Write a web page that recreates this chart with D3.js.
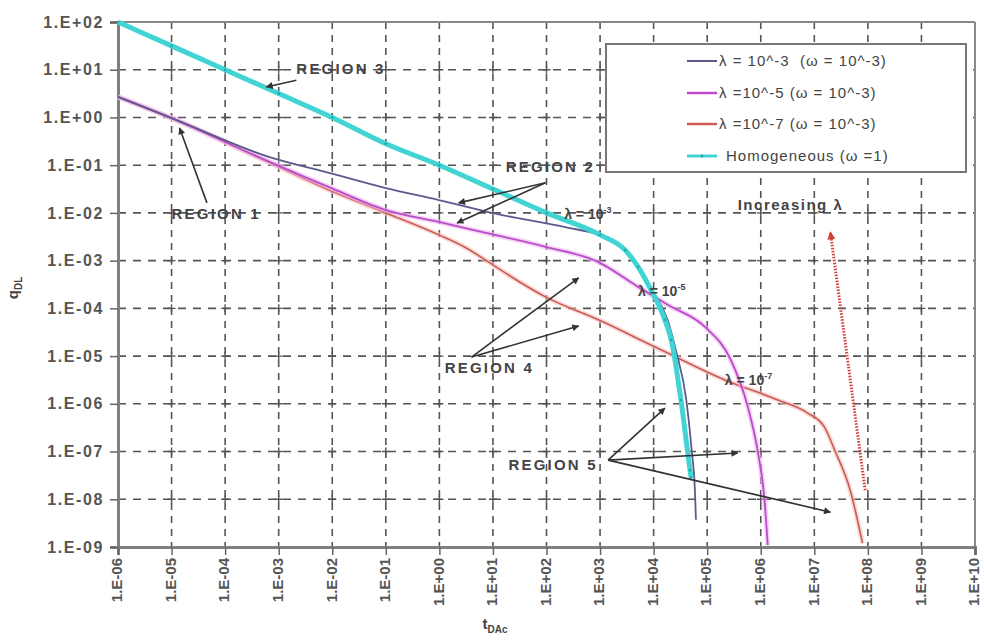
<!DOCTYPE html>
<html>
<head>
<meta charset="utf-8">
<script src="https://cdn.jsdelivr.net/npm/d3@7/dist/d3.min.js"></script>
<style>
  html, body { margin: 0; padding: 0; background: #fff; }
  svg { display: block; }
  text { font-family: "Liberation Sans", Arial, sans-serif; white-space: pre; }
</style>
</head>
<body>
<svg id="chart" width="984" height="644"></svg>
<script>
// ---------- DATA (log10 values) ----------
const xTickExps = [-6,-5,-4,-3,-2,-1,0,1,2,3,4,5,6,7,8,9,10];
const xTickLabels = ["1.E-06","1.E-05","1.E-04","1.E-03","1.E-02","1.E-01","1.E+00","1.E+01","1.E+02","1.E+03","1.E+04","1.E+05","1.E+06","1.E+07","1.E+08","1.E+09","1.E+10"];
const yTickExps = [2,1,0,-1,-2,-3,-4,-5,-6,-7,-8,-9];
const yTickLabels = ["1.E+02","1.E+01","1.E+00","1.E-01","1.E-02","1.E-03","1.E-04","1.E-05","1.E-06","1.E-07","1.E-08","1.E-09"];

// series: [log10 tDAc, log10 qDL]
const lambda3 = [[-6,0.43],[-5.01,-0.01],[-3.17,-0.83],[-2.06,-1.16],[-1.0,-1.48],[-0.01,-1.73],[0.98,-2.0],[2.35,-2.30],[3.0,-2.47],[3.47,-2.76],[3.73,-3.13],[3.97,-3.61],[4.26,-4.24],[4.42,-4.9],[4.61,-5.92],[4.71,-6.97],[4.77,-7.8],[4.79,-8.43]];
const lambda5 = [[-6,0.43],[-5.01,-0.01],[-3.17,-0.93],[-2.06,-1.46],[-1.0,-1.94],[-0.01,-2.19],[0.87,-2.42],[1.98,-2.71],[2.97,-3.03],[3.71,-3.55],[4.27,-3.93],[4.96,-4.39],[5.44,-5.08],[5.76,-6.07],[5.94,-6.97],[6.07,-8.01],[6.13,-8.96]];
const lambda7 = [[-6,0.43],[-5.01,-0.01],[-3.17,-0.95],[-2.06,-1.52],[-1.0,-2.0],[-0.01,-2.46],[0.46,-2.71],[0.92,-3.03],[1.29,-3.30],[1.98,-3.76],[2.97,-4.24],[4.03,-4.81],[5.33,-5.50],[6.32,-5.92],[6.87,-6.19],[7.19,-6.49],[7.38,-6.97],[7.67,-7.81],[7.90,-8.92]];
const homogeneous = [[-6,2],[-5,1.5],[-4,1.0],[-3,0.5],[-2,0.0],[-1,-0.55],[0,-1.0],[1,-1.5],[2,-2.0],[3,-2.46],[3.47,-2.78],[3.71,-3.13],[3.95,-3.61],[4.21,-4.24],[4.33,-4.66],[4.51,-5.92],[4.68,-7.39],[4.70,-7.55]];

const seriesNames = ["λ = 10^-3  (ω = 10^-3)","λ =10^-5 (ω = 10^-3)","λ =10^-7 (ω = 10^-3)","Homogeneous (ω =1)"];
const seriesColors = ["#5a5a8c","#b84cc9","#c95b52","#42d4d4"];
const seriesHalo = [null,"#f2b3f2","#f6c2c0","#bff3f3"];
const seriesWidths = [1.8,1.8,1.6,5];

// annotations in log10 data units
const regionLabels = [
  {text:"REGION 3", at:[-2.67,0.91], arrows:{from:[-2.67,0.78], to:[[-3.23,0.64]]}},
  {text:"REGION 1", at:[-5.0,-2.13], arrows:{from:[-4.34,-1.79], to:[[-4.85,-0.22]]}},
  {text:"REGION 2", at:[1.24,-1.14], arrows:{from:[1.98,-1.37], to:[[0.36,-1.79],[0.33,-2.21]]}},
  {text:"REGION 4", at:[0.10,-5.35], arrows:{from:[0.60,-5.02], to:[[2.60,-3.36],[2.60,-4.37]]}},
  {text:"REGION 5", at:[1.29,-7.39], arrows:{from:[3.15,-7.18], to:[[4.21,-6.09],[5.57,-7.03],[7.30,-8.27]]}}
];
const lambdaLabels = [
  {base:"λ = 10", sup:"-3", at:[2.33,-2.13]},
  {base:"λ = 10", sup:"-5", at:[3.71,-3.74]},
  {base:"λ = 10", sup:"-7", at:[5.33,-5.61]}
];
const increasingLabel = {text:"Increasing λ", at:[5.57,-1.94], from:[7.95,-7.81], to:[7.30,-2.40]};

// ---------- CHART ----------
const svg = d3.select("#chart");
const L = 118, R = 975, T = 22, B = 547;
const x = d3.scaleLog().domain([1e-6,1e10]).range([L,R]);
const y = d3.scaleLog().domain([1e-9,1e2]).range([B,T]);
const px = e => x(Math.pow(10,e));
const py = e => y(Math.pow(10,e));

// arrow marker defs
const defs = svg.append("defs");
defs.append("marker").attr("id","arrowDark").attr("viewBox","0 0 10 10")
  .attr("refX",9).attr("refY",5).attr("markerWidth",9).attr("markerHeight",7)
  .attr("markerUnits","userSpaceOnUse").attr("orient","auto")
  .append("path").attr("d","M0,0 L10,5 L0,10 Z").attr("fill","#333");
defs.append("marker").attr("id","arrowRed").attr("viewBox","0 0 10 10")
  .attr("refX",9).attr("refY",5).attr("markerWidth",10).attr("markerHeight",8)
  .attr("markerUnits","userSpaceOnUse").attr("orient","auto")
  .append("path").attr("d","M0,0 L10,5 L0,10 Z").attr("fill","#d0403a");

// grid
const grid = svg.append("g");
xTickExps.slice(1, -1).forEach(e => {
  grid.append("line").attr("x1",px(e)).attr("x2",px(e)).attr("y1",T).attr("y2",B)
    .attr("stroke","#555").attr("stroke-width",1.6).attr("stroke-dasharray","7,6");
});
yTickExps.slice(1, -1).forEach(e => {
  grid.append("line").attr("x1",L).attr("x2",R).attr("y1",py(e)).attr("y2",py(e))
    .attr("stroke","#555").attr("stroke-width",1.6).attr("stroke-dasharray","8,7");
});
// small crosses at grid intersections
xTickExps.slice(1, -1).forEach(ex => {
  yTickExps.slice(1, -1).forEach(ey => {
    const cx = px(ex), cy = py(ey);
    grid.append("path").attr("d",`M${cx-4},${cy}H${cx+4}M${cx},${cy-4}V${cy+4}`)
      .attr("stroke","#555").attr("stroke-width",1.4);
  });
});

// frame
svg.append("line").attr("x1",L).attr("x2",R).attr("y1",T).attr("y2",T).attr("stroke","#888").attr("stroke-width",2);
svg.append("line").attr("x1",R).attr("x2",R).attr("y1",T).attr("y2",B).attr("stroke","#888").attr("stroke-width",2);

// axes
const yAxis = d3.axisLeft(y).tickValues(yTickExps.map(e=>Math.pow(10,e)))
  .tickFormat((d,i)=>yTickLabels[i]).tickSize(8).tickPadding(6);
const gy = svg.append("g").attr("transform",`translate(${L},0)`).call(yAxis);
gy.select(".domain").attr("stroke","#808080").attr("stroke-width",3);
gy.selectAll(".tick line").attr("stroke","#666").attr("stroke-width",1.5);
gy.selectAll(".tick text").attr("font-size",16).attr("font-weight","bold")
  .attr("fill","#555").attr("letter-spacing","1.6px")
  .attr("font-family","'Liberation Sans', Arial, sans-serif");

const xAxis = d3.axisBottom(x).tickValues(xTickExps.map(e=>Math.pow(10,e)))
  .tickFormat((d,i)=>xTickLabels[i]).tickSize(8);
const gx = svg.append("g").attr("transform",`translate(0,${B})`).call(xAxis);
gx.select(".domain").attr("stroke","#808080").attr("stroke-width",3);
gx.selectAll(".tick line").attr("stroke","#666").attr("stroke-width",1.5);
gx.selectAll(".tick text").attr("font-size",15).attr("font-weight","bold")
  .attr("fill","#555").attr("transform","rotate(-90)")
  .attr("text-anchor","end").attr("x",-11).attr("y",0).attr("dy","0.25em")
  .attr("font-family","'Liberation Sans', Arial, sans-serif");

// axis titles
const yt = svg.append("text").attr("transform","translate(18,288) rotate(-90)")
  .attr("text-anchor","middle").attr("font-size",15).attr("font-weight","bold").attr("fill","#444");
yt.append("tspan").text("q");
yt.append("tspan").attr("font-size",10).attr("dy",4).text("DL");
const xt = svg.append("text").attr("x",495).attr("y",629)
  .attr("text-anchor","middle").attr("font-size",15).attr("font-weight","bold").attr("fill","#444");
xt.append("tspan").text("t");
xt.append("tspan").attr("font-size",10).attr("dy",4).text("DAc");

// curves
const line = d3.line().x(d=>px(d[0])).y(d=>py(d[1])).curve(d3.curveMonotoneX);
const allSeries = [lambda3, lambda5, lambda7, homogeneous];
const order = [2,1,0,3];
const curves = svg.append("g");
order.forEach(i => {
  if (seriesHalo[i] && i !== 3) {
    curves.append("path").datum(allSeries[i]).attr("d",line).attr("fill","none")
      .attr("stroke",seriesHalo[i]).attr("stroke-width",5).attr("stroke-opacity",0.6);
  }
  curves.append("path").datum(allSeries[i]).attr("d",line).attr("fill","none")
    .attr("stroke",seriesColors[i]).attr("stroke-width",seriesWidths[i])
    .attr("stroke-linejoin","round");
  if (i === 3) {
    curves.selectAll(null).data(allSeries[i]).enter().append("circle")
      .attr("cx",d=>px(d[0])).attr("cy",d=>py(d[1])).attr("r",1.3).attr("fill","#1fa9ab");
  }
});

// annotations
const ann = svg.append("g");
regionLabels.forEach(r => {
  r.arrows.to.forEach(t => {
    ann.append("line").attr("x1",px(r.arrows.from[0])).attr("y1",py(r.arrows.from[1]))
      .attr("x2",px(t[0])).attr("y2",py(t[1])).attr("stroke","#333").attr("stroke-width",1.6)
      .attr("marker-end","url(#arrowDark)");
  });
  ann.append("text").attr("x",px(r.at[0])).attr("y",py(r.at[1])).text(r.text)
    .attr("font-size",15).attr("font-weight","bold").attr("fill","#444").attr("letter-spacing","2.2px");
});
lambdaLabels.forEach(l => {
  const t = ann.append("text").attr("x",px(l.at[0])).attr("y",py(l.at[1]))
    .attr("font-size",14).attr("font-weight","bold").attr("fill","#444");
  t.append("tspan").text(l.base);
  t.append("tspan").attr("font-size",9).attr("dy",-6).text(l.sup);
});
ann.append("line").attr("x1",px(increasingLabel.from[0])).attr("y1",py(increasingLabel.from[1]))
  .attr("x2",px(increasingLabel.to[0])).attr("y2",py(increasingLabel.to[1]))
  .attr("stroke","#d0403a").attr("stroke-width",3).attr("stroke-dasharray","1.5,1.5")
  .attr("marker-end","url(#arrowRed)");
ann.append("text").attr("x",px(increasingLabel.at[0])).attr("y",py(increasingLabel.at[1]))
  .text(increasingLabel.text).attr("font-size",15).attr("font-weight","bold").attr("fill","#444")
  .attr("letter-spacing","1.5px");

// legend
const lg = svg.append("g");
lg.append("rect").attr("x",606).attr("y",44).attr("width",360).attr("height",128)
  .attr("fill","#fff").attr("stroke","#777").attr("stroke-width",2);
const rowsY = [61,93,124,156];
seriesNames.forEach((name,i) => {
  if (seriesHalo[i] && i !== 3) {
    lg.append("line").attr("x1",687).attr("x2",717).attr("y1",rowsY[i]).attr("y2",rowsY[i])
      .attr("stroke",seriesHalo[i]).attr("stroke-width",4).attr("stroke-opacity",0.6);
  }
  lg.append("line").attr("x1",687).attr("x2",717).attr("y1",rowsY[i]).attr("y2",rowsY[i])
    .attr("stroke",seriesColors[i]).attr("stroke-width",i===3?3:2);
  if (i === 3) lg.append("circle").attr("cx",702).attr("cy",rowsY[i]).attr("r",1.5).attr("fill","#1fa9ab");
  lg.append("text").attr("x",i===3?726:719).attr("y",rowsY[i]).attr("dy","0.35em")
    .attr("font-size",15).attr("fill","#444").attr("letter-spacing","1px").text(name);
});
</script>
</body>
</html>
